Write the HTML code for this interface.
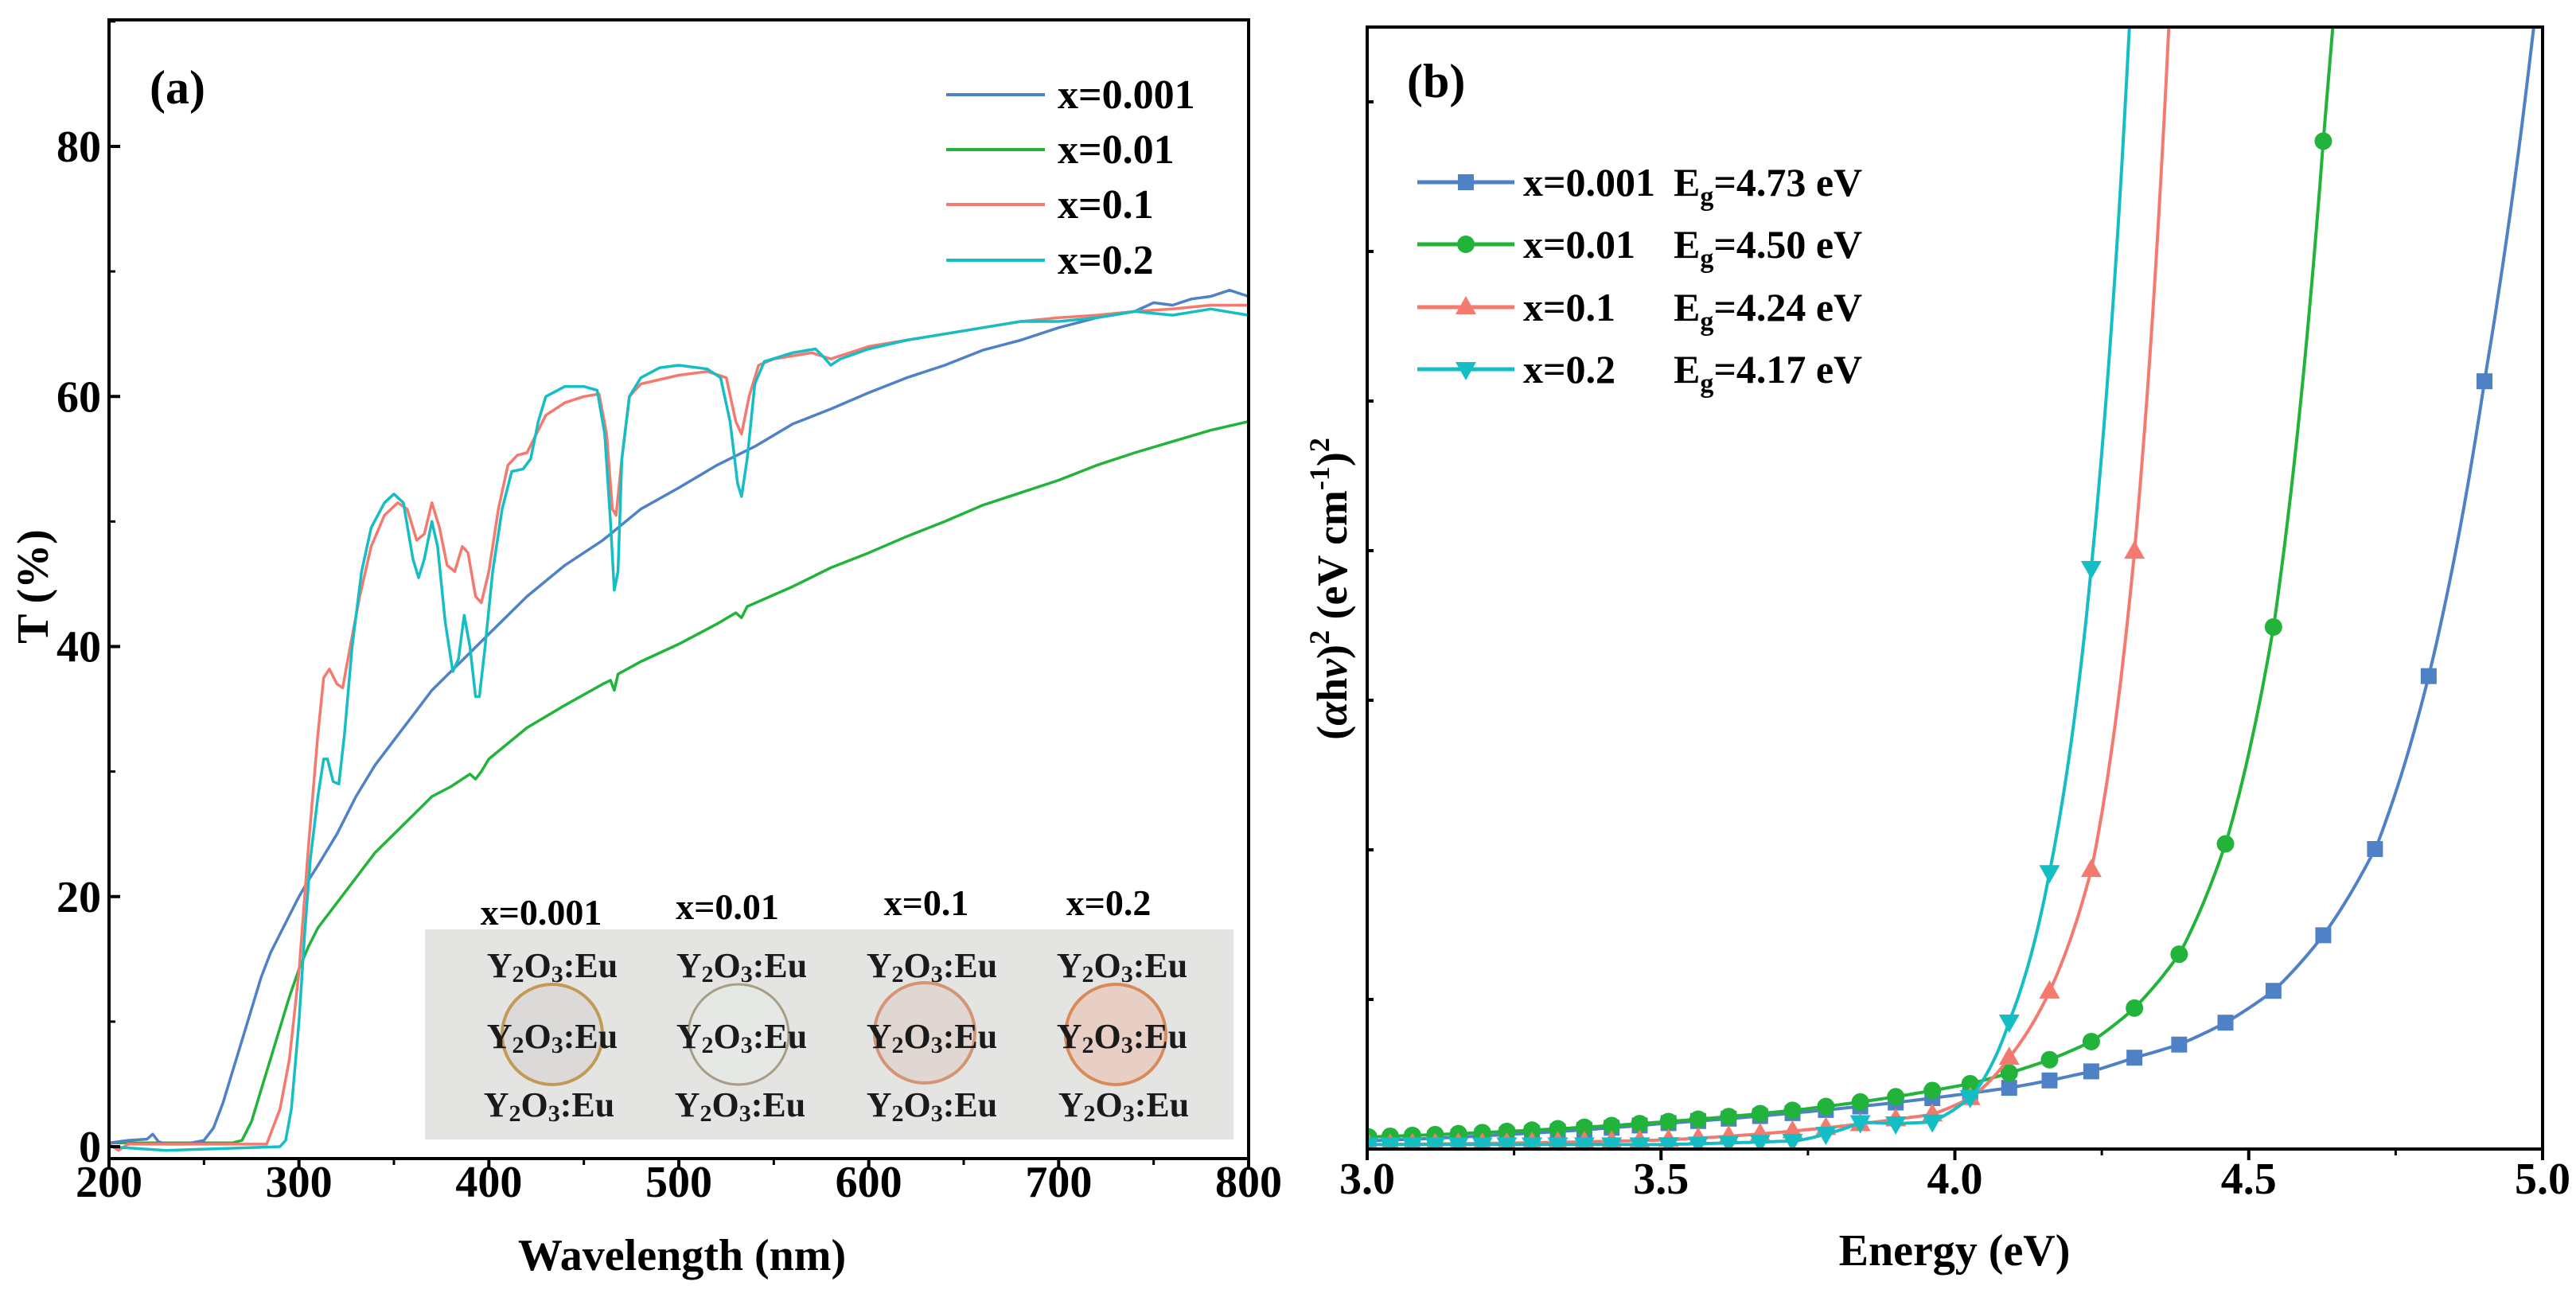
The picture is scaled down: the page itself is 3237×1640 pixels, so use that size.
<!DOCTYPE html>
<html><head><meta charset="utf-8"><style>
html,body{margin:0;padding:0;background:#fff}
svg{display:block;font-family:"Liberation Serif",serif;font-weight:bold}
</style></head><body>
<svg id="fig" width="3237" height="1640" viewBox="0 0 3237 1640" xmlns="http://www.w3.org/2000/svg">
<g id="pa"></g>
<g id="pb"></g>
</svg>
<script>
// ---------- Panel (a) data ----------
const aBlueX=[200,210,220,223,226,230,240,250,255,260,265,270,275,280,285,290,295,300,305,310,320,330,340,350,360,370,380,390,400,420,440,460,480,500,520,540,560,580,600,620,640,660,680,700,720,740,750,760,770,780,790,800];
const aBlueY=[0.3,0.5,0.6,1.0,0.4,0.2,0.2,0.5,1.5,3.5,6,8.5,11,13.5,15.5,17,18.5,20,21.3,22.5,25,28,30.5,32.5,34.5,36.5,38,39.5,41,44,46.5,48.5,51,52.7,54.5,56,57.8,59,60.3,61.5,62.5,63.7,64.5,65.5,66.3,66.8,67.5,67.3,67.8,68,68.5,68];
const aGreenX=[200,265,270,275,280,285,290,295,300,305,310,320,330,340,350,360,370,380,390,393,396,400,420,440,460,464,466,468,480,500,520,530,533,536,560,580,600,620,640,660,680,700,720,740,760,780,800];
const aGreenY=[0.3,0.3,0.5,2,4.5,7,9.5,12,14.2,16,17.5,19.5,21.5,23.5,25,26.5,28,28.8,29.8,29.4,30,31,33.5,35.3,37,37.3,36.5,37.8,38.8,40.2,41.8,42.7,42.3,43.2,44.8,46.3,47.5,48.8,50,51.3,52.3,53.3,54.5,55.5,56.4,57.3,58];
const aRedX=[200,205,210,283,285,290,295,300,305,310,313,316,320,323,327,332,338,345,352,357,362,366,370,374,378,382,386,389,393,396,400,405,410,415,420,425,430,440,450,458,462,465,467,470,474,480,500,515,525,530,533,537,542,550,570,580,590,600,620,640,660,680,700,720,740,760,780,800];
const aRedY=[0.2,-0.3,0.2,0.2,1,3,7,14,24,33,37.5,38.2,37,36.7,40,44,48,50.5,51.5,51,48.5,49,51.5,49.5,46.5,46,48,47.5,44,43.5,46,51,54.5,55.3,55.5,57,58.5,59.5,60,60.2,57,51,50.5,55,60,61,61.7,62,61.5,58,57,60,62.5,63,63.5,63,63.5,64,64.5,65,65.5,66,66.3,66.5,66.8,67,67.3,67.3];
const aCyanX=[200,230,290,293,296,300,303,306,310,313,315,318,321,324,328,333,338,345,350,355,360,363,366,370,373,377,381,384,387,390,393,395,398,402,407,412,418,422,426,430,440,450,457,461,464,466,468,470,474,480,490,500,515,522,527,531,533,536,540,545,560,572,576,580,585,600,620,640,660,680,700,720,740,760,780,800];
const aCyanY=[0,-0.3,0,0.5,3,10,17,23,28,31,31,29.2,29,33,40,46,49.5,51.5,52.2,51.5,47,45.5,47,50,48,42,38,39,42.5,40,36,36,40,46,51,54,54.2,55,58,60,60.8,60.8,60.5,57,50,44.5,46,55,60,61.5,62.3,62.5,62.2,61.5,58,53,52,55,61,62.8,63.5,63.8,63.2,62.5,63,63.8,64.5,65,65.5,66,66,66.3,66.8,66.5,67,66.5];
const aXTicks=[200,300,400,500,600,700,800];
const aXTickLabels=["200","300","400","500","600","700","800"];
const aYTicks=[0,20,40,60,80];
const aYTickLabels=["0","20","40","60","80"];
// ---------- Panel (b) data ----------
const bBlueE=[3.0,3.25,3.5,3.75,4.0,4.094,4.163,4.233,4.305,4.383,4.463,4.543,4.629,4.718,4.808,4.903,4.95,4.985];
const bBlueY=[0.055,0.1,0.17,0.25,0.36,0.41,0.46,0.52,0.61,0.70,0.85,1.06,1.44,2.03,3.19,5.18,6.4,7.5];
const bGreenE=[3.0,3.25,3.5,3.75,3.9,3.96,4.03,4.094,4.163,4.233,4.305,4.383,4.463,4.543,4.629,4.643];
const bGreenY=[0.08,0.12,0.18,0.27,0.35,0.39,0.44,0.51,0.60,0.72,0.94,1.31,2.07,3.51,6.85,7.5];
const bRedE=[3.0,3.25,3.5,3.75,3.9,3.96,4.03,4.094,4.163,4.233,4.305,4.364];
const bRedY=[0.03,0.04,0.06,0.13,0.2,0.23,0.35,0.62,1.07,1.88,3.97,7.5];
const bCyanE=[3.0,3.25,3.5,3.73,3.78,3.84,3.90,3.96,4.03,4.094,4.163,4.233,4.297];
const bCyanY=[0.03,0.03,0.03,0.055,0.1,0.18,0.17,0.18,0.36,0.87,1.89,3.92,7.5];
const bMarkWl=[413,408,403,398,393,388,383,378,373,368,363,358,353,348,343,338,333,328,323,318,313,308,303,298,293,288,283,278,273,268,263,258,253];
const bXTicks=[3.0,3.5,4.0,4.5,5.0];
const bXTickLabels=["3.0","3.5","4.0","4.5","5.0"];
const bYTicks=[1,2,3,4,5,6,7];

const NS="http://www.w3.org/2000/svg";
function mk(parent,tag,attrs,txt){const e=document.createElementNS(NS,tag);for(const k in attrs)e.setAttribute(k,attrs[k]);if(txt!==undefined)e.textContent=txt;parent.appendChild(e);return e;}

// ---- Panel A ----
const pa=document.getElementById('pa');
const AL=137,AR=1569,AT=25,AB=1456;
const ax=v=>AL+(v-200)/600*(AR-AL);
const ay=v=>1441-(v)*(1441-184)/80;
function lineA(xs,ys,col,name){
  let d=xs.map((x,i)=>(i?'L':'M')+ax(x).toFixed(1)+' '+ay(ys[i]).toFixed(1)).join(' ');
  const p=mk(pa,'path',{d:d,fill:'none',stroke:col,'stroke-width':3.5,'stroke-linejoin':'round'});
  
  
}
lineA(aGreenX,aGreenY,'#22b33a','line-x0.01');
lineA(aBlueX,aBlueY,'#4f81c7','line-x0.001');
lineA(aRedX,aRedY,'#f47a6f','line-x0.1');
lineA(aCyanX,aCyanY,'#15bdc4','line-x0.2');
let r=mk(pa,'rect',{x:AL,y:AT,width:AR-AL,height:AB-AT,fill:'none',stroke:'#000','stroke-width':4});

aXTicks.forEach((v,i)=>{
  mk(pa,'line',{x1:ax(v),x2:ax(v),y1:AB,y2:AB+14,stroke:'#000','stroke-width':4});
  if(i<aXTicks.length-1)mk(pa,'line',{x1:ax(v+50),x2:ax(v+50),y1:AB,y2:AB+8,stroke:'#000','stroke-width':3});
  const t=mk(pa,'text',{x:ax(v),y:1504,'font-size':56,'text-anchor':'middle'},aXTickLabels[i]);
  
});
aYTicks.forEach((v,i)=>{
  mk(pa,'line',{x1:AL,x2:AL+14,y1:ay(v),y2:ay(v),stroke:'#000','stroke-width':4});
  mk(pa,'line',{x1:AL,x2:AL+8,y1:ay(v+10),y2:ay(v+10),stroke:'#000','stroke-width':3});
  const t=mk(pa,'text',{x:127,y:ay(v)+19,'font-size':56,'text-anchor':'end'},aYTickLabels[i]);
  
});
</script>
<script>
// static parts of panel A
(function(){
const pa=document.getElementById('pa');
pa.insertAdjacentHTML('beforeend',`
<text x="188" y="130" font-size="60">(a)</text>
<text x="857" y="1596" font-size="56" text-anchor="middle">Wavelength (nm)</text>
<text transform="translate(60,737) rotate(-90)" font-size="56" text-anchor="middle">T (%)</text>
<g font-size="52">
 <g><line x1="1189" x2="1313" y1="119" y2="119" stroke="#4f81c7" stroke-width="4"/><text x="1329" y="136">x=0.001</text></g>
 <g><line x1="1189" x2="1313" y1="188" y2="188" stroke="#22b33a" stroke-width="4"/><text x="1329" y="205">x=0.01</text></g>
 <g><line x1="1189" x2="1313" y1="257" y2="257" stroke="#f47a6f" stroke-width="4"/><text x="1329" y="274">x=0.1</text></g>
 <g><line x1="1189" x2="1313" y1="327" y2="327" stroke="#15bdc4" stroke-width="4"/><text x="1329" y="344">x=0.2</text></g>
</g>
<g>
 <text x="680" y="1162" font-size="46" text-anchor="middle">x=0.001</text>
 <text x="914" y="1155" font-size="46" text-anchor="middle">x=0.01</text>
 <text x="1164" y="1150" font-size="46" text-anchor="middle">x=0.1</text>
 <text x="1393" y="1150" font-size="46" text-anchor="middle">x=0.2</text>
 <rect x="534" y="1168" width="1016" height="264" fill="#e4e4e2"/>
 <circle cx="694" cy="1300" r="63" fill="#dcdad8" stroke="#c39a55" stroke-width="4"/>
 <circle cx="928" cy="1300" r="63" fill="#e6e8e6" stroke="#a89e88" stroke-width="3"/>
 <circle cx="1162" cy="1298" r="63" fill="#e0d6d2" stroke="#d49575" stroke-width="4"/>
 <circle cx="1402" cy="1300" r="63" fill="#e8cfc6" stroke="#d98a5a" stroke-width="4"/>
 <g font-size="44" fill="#1a1a1a" text-anchor="middle">
  <text x="694" y="1228">Y<tspan font-size="30" dy="6">2</tspan><tspan dy="-6">O</tspan><tspan font-size="30" dy="6">3</tspan><tspan dy="-6">:Eu</tspan></text>
  <text x="932" y="1228">Y<tspan font-size="30" dy="6">2</tspan><tspan dy="-6">O</tspan><tspan font-size="30" dy="6">3</tspan><tspan dy="-6">:Eu</tspan></text>
  <text x="1171" y="1228">Y<tspan font-size="30" dy="6">2</tspan><tspan dy="-6">O</tspan><tspan font-size="30" dy="6">3</tspan><tspan dy="-6">:Eu</tspan></text>
  <text x="1410" y="1228">Y<tspan font-size="30" dy="6">2</tspan><tspan dy="-6">O</tspan><tspan font-size="30" dy="6">3</tspan><tspan dy="-6">:Eu</tspan></text>
  <text x="694" y="1317">Y<tspan font-size="30" dy="6">2</tspan><tspan dy="-6">O</tspan><tspan font-size="30" dy="6">3</tspan><tspan dy="-6">:Eu</tspan></text>
  <text x="932" y="1317">Y<tspan font-size="30" dy="6">2</tspan><tspan dy="-6">O</tspan><tspan font-size="30" dy="6">3</tspan><tspan dy="-6">:Eu</tspan></text>
  <text x="1171" y="1317">Y<tspan font-size="30" dy="6">2</tspan><tspan dy="-6">O</tspan><tspan font-size="30" dy="6">3</tspan><tspan dy="-6">:Eu</tspan></text>
  <text x="1410" y="1317">Y<tspan font-size="30" dy="6">2</tspan><tspan dy="-6">O</tspan><tspan font-size="30" dy="6">3</tspan><tspan dy="-6">:Eu</tspan></text>
  <text x="690" y="1403">Y<tspan font-size="30" dy="6">2</tspan><tspan dy="-6">O</tspan><tspan font-size="30" dy="6">3</tspan><tspan dy="-6">:Eu</tspan></text>
  <text x="930" y="1403">Y<tspan font-size="30" dy="6">2</tspan><tspan dy="-6">O</tspan><tspan font-size="30" dy="6">3</tspan><tspan dy="-6">:Eu</tspan></text>
  <text x="1171" y="1403">Y<tspan font-size="30" dy="6">2</tspan><tspan dy="-6">O</tspan><tspan font-size="30" dy="6">3</tspan><tspan dy="-6">:Eu</tspan></text>
  <text x="1412" y="1403">Y<tspan font-size="30" dy="6">2</tspan><tspan dy="-6">O</tspan><tspan font-size="30" dy="6">3</tspan><tspan dy="-6">:Eu</tspan></text>
 </g>
</g>`);
})();
</script>
<script>
// ---- Panel B ----
(function(){
const pb=document.getElementById('pb');
const BL=1718,BR=3195,BT=34,BB=1444;
const bx=v=>BL+(v-3)/2*(BR-BL);
const byU=(BB-BT)/7.5;
const by=v=>BB-v*byU;
const clip=mk(pb,'clipPath',{id:'cb'});mk(clip,'rect',{x:BL,y:BT,width:BR-BL,height:BB-BT});
const g=mk(pb,'g',{'clip-path':'url(#cb)'});
function interp(xs,ys,x){for(let i=0;i<xs.length-1;i++){if(x>=xs[i]&&x<=xs[i+1]){const t=(x-xs[i])/(xs[i+1]-xs[i]);
 // log interpolation for smooth exponential rise
 const a=Math.log(ys[i]),b=Math.log(ys[i+1]);return Math.exp(a+(b-a)*t);}}return null;}
function series(xs,ys,col,shape,name){
  const pts=[];const n=300;
  for(let k=0;k<=n;k++){const x=xs[0]+(xs[xs.length-1]-xs[0])*k/n;const y=interp(xs,ys,x);if(y!==null)pts.push([bx(x),by(y)]);}
  const d=pts.map((p,i)=>(i?'L':'M')+p[0].toFixed(1)+' '+p[1].toFixed(1)).join(' ');
  const p=mk(g,'path',{d:d,fill:'none',stroke:col,'stroke-width':4});
  
  
  bMarkWl.forEach(w=>{const e=1240/w;const y=interp(xs,ys,e);if(y===null||y>7.4)return;
    const cx=bx(e),cy=by(y);let m;
    if(shape==='sq')m=mk(g,'rect',{x:cx-10,y:cy-10,width:20,height:20,fill:col});
    else if(shape==='ci')m=mk(g,'circle',{cx:cx,cy:cy,r:11,fill:col});
    else if(shape==='up')m=mk(g,'path',{d:`M${cx} ${cy-14}L${cx+13} ${cy+9}L${cx-13} ${cy+9}Z`,fill:col});
    else m=mk(g,'path',{d:`M${cx} ${cy+14}L${cx+13} ${cy-9}L${cx-13} ${cy-9}Z`,fill:col});
    
    
  });
}
series(bBlueE,bBlueY,'#4f81c7','sq','curve-x0.001');
series(bGreenE,bGreenY,'#22b33a','ci','curve-x0.01');
series(bRedE,bRedY,'#f47a6f','up','curve-x0.1');
series(bCyanE,bCyanY,'#15bdc4','dn','curve-x0.2');
const r=mk(pb,'rect',{x:BL,y:BT,width:BR-BL,height:BB-BT,fill:'none',stroke:'#000','stroke-width':4});

bXTicks.forEach((v,i)=>{
  mk(pb,'line',{x1:bx(v),x2:bx(v),y1:BB,y2:BB+14,stroke:'#000','stroke-width':4});
  if(i<bXTicks.length-1)mk(pb,'line',{x1:bx(v+0.25),x2:bx(v+0.25),y1:BB,y2:BB+8,stroke:'#000','stroke-width':3});
  const t=mk(pb,'text',{x:bx(v),y:1500,'font-size':56,'text-anchor':'middle'},bXTickLabels[i]);
  
});
bYTicks.forEach(v=>{mk(pb,'line',{x1:BL,x2:BL+8,y1:by(v),y2:by(v),stroke:'#000','stroke-width':4});});
pb.insertAdjacentHTML('beforeend',`
<text x="1768" y="122" font-size="60">(b)</text>
<text x="2456" y="1590" font-size="56" text-anchor="middle">Energy (eV)</text>
<text transform="translate(1692,740) rotate(-90)" font-size="54" text-anchor="middle">(<tspan font-style="italic">α</tspan>h<tspan font-style="italic">ν</tspan>)<tspan font-size="36" dy="-22">2</tspan><tspan dy="22"> (eV cm</tspan><tspan font-size="36" dy="-22">-1</tspan><tspan dy="22">)</tspan><tspan font-size="36" dy="-22">2</tspan></text>
<g font-size="50">
 <g><line x1="1781" x2="1903" y1="229" y2="229" stroke="#4f81c7" stroke-width="5"/><rect x="1832" y="219" width="20" height="20" fill="#4f81c7"/><text x="1914" y="246">x=0.001</text><text x="2103" y="246">E<tspan font-size="34" dy="12">g</tspan><tspan dy="-12">=4.73 eV</tspan></text></g>
 <g><line x1="1781" x2="1903" y1="307" y2="307" stroke="#22b33a" stroke-width="5"/><circle cx="1842" cy="307" r="11" fill="#22b33a"/><text x="1914" y="324">x=0.01</text><text x="2103" y="324">E<tspan font-size="34" dy="12">g</tspan><tspan dy="-12">=4.50 eV</tspan></text></g>
 <g><line x1="1781" x2="1903" y1="386" y2="386" stroke="#f47a6f" stroke-width="5"/><path d="M1842 372L1855 395L1829 395Z" fill="#f47a6f"/><text x="1914" y="403">x=0.1</text><text x="2103" y="403">E<tspan font-size="34" dy="12">g</tspan><tspan dy="-12">=4.24 eV</tspan></text></g>
 <g><line x1="1781" x2="1903" y1="464" y2="464" stroke="#15bdc4" stroke-width="5"/><path d="M1842 478L1855 455L1829 455Z" fill="#15bdc4"/><text x="1914" y="481">x=0.2</text><text x="2103" y="481">E<tspan font-size="34" dy="12">g</tspan><tspan dy="-12">=4.17 eV</tspan></text></g>
</g>`);
})();
</script>
</body></html>
